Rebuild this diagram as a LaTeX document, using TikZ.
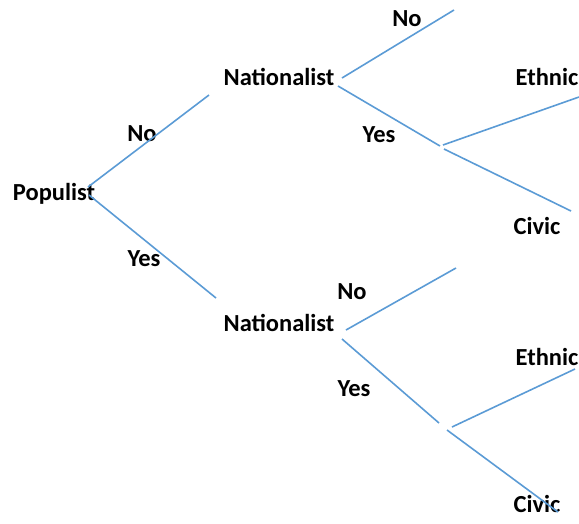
\documentclass[tikz,border=0pt]{standalone}
\usepackage{fontspec}
\setmainfont{Carlito}
\begin{document}
\begin{tikzpicture}[x=1pt,y=-1pt,
  lbl/.style={font=\bfseries\fontsize{24.5}{28}\selectfont, inner sep=0pt, text=black},
  branch/.style={draw={rgb,255:red,91;green,155;blue,213}, line width=1.6pt}]
\useasboundingbox (0,0) rectangle (579,523);
% texts
\node[lbl] (populist) at (54,194) {Populist};
\node[lbl] (no0) at (142,134) {No};
\node[lbl] (yes0) at (144,259) {Yes};
\node[lbl] (nat1) at (279,77) {Nationalist};
\node[lbl] (no1) at (407,19) {No};
\node[lbl] (yes1) at (379,135) {Yes};
\node[lbl] (eth1) at (547,77) {Ethnic};
\node[lbl] (civ1) at (537,226) {Civic};
\node[lbl] (nat2) at (279,323) {Nationalist};
\node[lbl] (no2) at (352,292) {No};
\node[lbl] (yes2) at (354,389) {Yes};
\node[lbl] (eth2) at (547,357) {Ethnic};
\node[lbl] (civ2) at (537,504) {Civic};
% connector ends
\coordinate (p0a) at (88,187);
\coordinate (p0b) at (89,195);
\coordinate (n1in) at (209,95);
\coordinate (n2in) at (216,298);
\coordinate (n1no) at (342,78);
\coordinate (n1noend) at (454,10);
\coordinate (n1yes) at (338,86);
\coordinate (j1) at (440,146);
\coordinate (j1e) at (443,145);
\coordinate (e1end) at (579,97);
\coordinate (j1c) at (444,149);
\coordinate (c1end) at (571,211);
\coordinate (n2no) at (346,330);
\coordinate (n2noend) at (456,268);
\coordinate (n2yes) at (342,339);
\coordinate (j2) at (439,423);
\coordinate (j2e) at (452,427);
\coordinate (e2end) at (575,369);
\coordinate (j2c) at (447,430);
\coordinate (c2end) at (558,512);
% connectors
\draw[branch] (p0a) -- (n1in);
\draw[branch] (p0b) -- (n2in);
\draw[branch] (n1no) -- (n1noend);
\draw[branch] (n1yes) -- (j1);
\draw[branch] (j1e) -- (e1end);
\draw[branch] (j1c) -- (c1end);
\draw[branch] (n2no) -- (n2noend);
\draw[branch] (n2yes) -- (j2);
\draw[branch] (j2e) -- (e2end);
\draw[branch] (j2c) -- (c2end);
\end{tikzpicture}
\end{document}
